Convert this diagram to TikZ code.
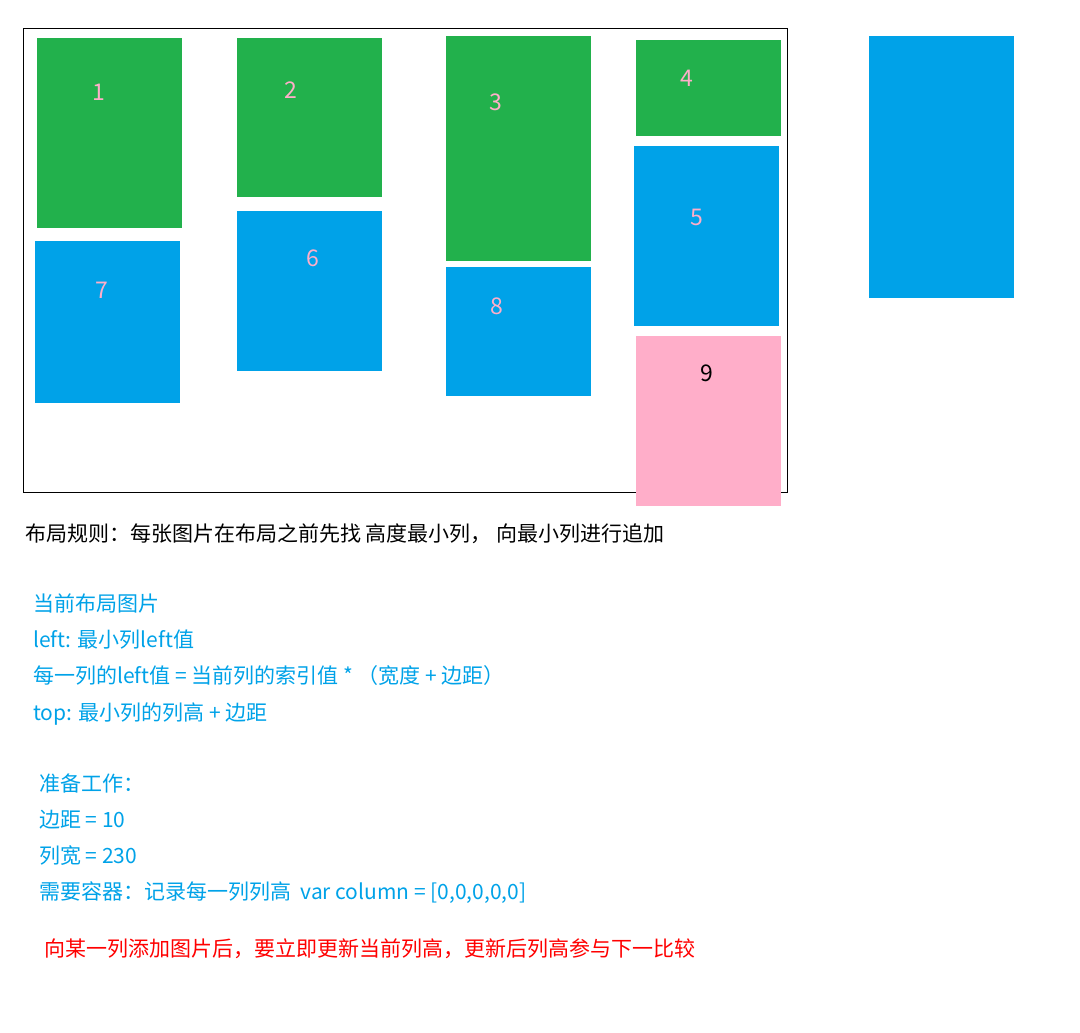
\documentclass[tikz,border=0pt]{standalone}
\usepackage{fontspec}
\setmainfont{Noto Sans CJK SC}
\usepackage{tikz}
\usetikzlibrary{positioning}
\definecolor{imggreen}{HTML}{22B14C}
\definecolor{imgblue}{HTML}{00A2E8}
\definecolor{imgpink}{HTML}{FFAEC9}
\definecolor{notered}{HTML}{FF0000}

\tikzset{
  num/.style={inner sep=0pt, font=\fontsize{23}{26}\selectfont, text=imgpink},
  note/.style={anchor=base west, inner sep=0pt, font=\fontsize{21}{26}\selectfont},
}

\begin{document}
\begin{tikzpicture}[x=1pt, y=-1pt]
  \useasboundingbox (0,0) rectangle (1080,1033);
  % Kontejner
  \draw[line width=1pt] (23,29) rectangle (787,492);

  % 1. rada obrazku
  \fill[imggreen] (37,38) rectangle (182,228);
  \fill[imggreen] (237,38) rectangle (382,197);
  \fill[imggreen] (446,36) rectangle (591,261);
  \fill[imggreen] (636,40) rectangle (781,136);
  % 2. rada obrazku
  \fill[imgblue] (634,146) rectangle (779,326);
  \fill[imgblue] (237,211) rectangle (382,371);
  \fill[imgblue] (35,241) rectangle (180,403);
  \fill[imgblue] (446,267) rectangle (591,396);
  % Dalsi obrazek
  \fill[imgpink] (636,336) rectangle (781,506);
  \fill[imgblue] (869,36) rectangle (1014,298);

  % Cisla
  \node[num] (n1) at (99,92) {1};
  \node[num] (n2) at (291,90) {2};
  \node[num] (n3) at (496,102) {3};
  \node[num] (n4) at (687,78) {4};
  \node[num] (n5) at (697,217) {5};
  \node[num] (n6) at (313,258) {6};
  \node[num] (n7) at (102,290) {7};
  \node[num] (n8) at (497,306) {8};
  \node[num, text=black] (n9) at (707,373) {9};

  % Popisky
  \node[note] (rule) at (25,541) {布局规则：每张图片在布局之前先找 高度最小列， 向最小列进行追加};
  \node[note, text=imgblue] (cur) at (33,611) {当前布局图片};
  \node[note, text=imgblue] (left) at (33,647) {left: 最小列left值};
  \node[note, text=imgblue] (each) at (33,683) {每一列的left值 = 当前列的索引值 * （宽度 + 边距）};
  \node[note, text=imgblue] (top) at (33,720) {top: 最小列的列高 + 边距};
  \node[note, text=imgblue] (prep) at (39,791) {准备工作：};
  \node[note, text=imgblue] (gap) at (39,827) {边距 = 10};
  \node[note, text=imgblue] (colw) at (39,863) {列宽 = 230};
  \node[note, text=imgblue] (need) at (39,899) {需要容器：记录每一列列高\ \ var column = [0,0,0,0,0]};
  \node[note, text=notered] (upd) at (44,956) {向某一列添加图片后，要立即更新当前列高，更新后列高参与下一比较};
\end{tikzpicture}
\end{document}
